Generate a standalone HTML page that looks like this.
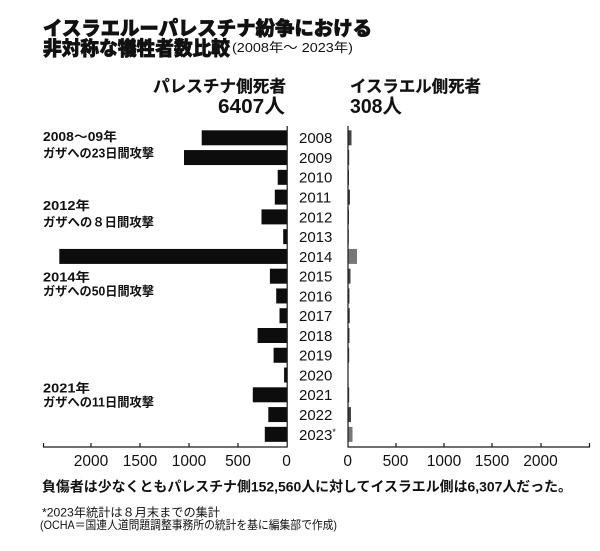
<!DOCTYPE html>
<html><head><meta charset="utf-8"><style>
html,body{margin:0;padding:0;background:#fff;}
svg{display:block;}
text{font-family:"Liberation Sans","Noto Sans CJK JP",sans-serif;fill:#111;}
</style></head><body>
<svg width="600" height="551" viewBox="0 0 600 551" xmlns="http://www.w3.org/2000/svg">
<rect width="600" height="551" fill="#fff"/>
<!-- Title -->
<text x="43" y="35" font-size="19.4" font-weight="900" stroke="#111" stroke-width="0.7" textLength="329" lengthAdjust="spacingAndGlyphs">イスラエルーパレスチナ紛争における</text>
<text x="43" y="55" font-size="19.4" font-weight="900" stroke="#111" stroke-width="0.7" textLength="187" lengthAdjust="spacingAndGlyphs">非対称な犠牲者数比較</text>
<text x="232" y="52" font-size="13" textLength="121" lengthAdjust="spacingAndGlyphs">(2008年～ 2023年)</text>
<!-- Headers -->
<text x="153" y="92" font-size="16.5" font-weight="bold" stroke="#111" stroke-width="0.25" textLength="133" lengthAdjust="spacingAndGlyphs">パレスチナ側死者</text>
<text x="218" y="113" font-size="20" font-weight="bold" textLength="67" lengthAdjust="spacingAndGlyphs">6407人</text>
<text x="350" y="92" font-size="16.5" font-weight="bold" stroke="#111" stroke-width="0.25" textLength="131" lengthAdjust="spacingAndGlyphs">イスラエル側死者</text>
<text x="350" y="113" font-size="20" font-weight="bold" textLength="52" lengthAdjust="spacingAndGlyphs">308人</text>
<!-- Annotations -->
<g font-size="12.5" font-weight="bold">
<text x="43" y="141" textLength="74" lengthAdjust="spacingAndGlyphs">2008～09年</text>
<text x="43" y="157.5" textLength="111" lengthAdjust="spacingAndGlyphs">ガザへの23日間攻撃</text>
<text x="43" y="210" textLength="47" lengthAdjust="spacingAndGlyphs">2012年</text>
<text x="43" y="226.5" textLength="111" lengthAdjust="spacingAndGlyphs">ガザへの８日間攻撃</text>
<text x="43" y="281.5" textLength="47" lengthAdjust="spacingAndGlyphs">2014年</text>
<text x="43" y="295.5" textLength="111" lengthAdjust="spacingAndGlyphs">ガザへの50日間攻撃</text>
<text x="43" y="392.5" textLength="47" lengthAdjust="spacingAndGlyphs">2021年</text>
<text x="43" y="406.5" textLength="111" lengthAdjust="spacingAndGlyphs">ガザへの11日間攻撃</text>
</g>
<!-- Left bars -->
<g fill="#0d0d0d">
<rect x="201.7" y="130.3" width="85.3" height="15"/>
<rect x="184" y="150.07" width="103" height="15"/>
<rect x="277.7" y="169.84" width="9.3" height="15"/>
<rect x="274.8" y="189.61" width="12.2" height="15"/>
<rect x="261.5" y="209.38" width="25.5" height="15"/>
<rect x="283.2" y="229.15" width="3.8" height="15"/>
<rect x="59.3" y="248.92" width="227.7" height="15"/>
<rect x="269.9" y="268.69" width="17.1" height="15"/>
<rect x="276.2" y="288.46" width="10.8" height="15"/>
<rect x="279.5" y="308.23" width="7.5" height="15"/>
<rect x="257.6" y="328" width="29.4" height="15"/>
<rect x="273.6" y="347.77" width="13.4" height="15"/>
<rect x="284.1" y="367.54" width="2.9" height="15"/>
<rect x="252.8" y="387.31" width="34.2" height="15"/>
<rect x="268.3" y="407.08" width="18.7" height="15"/>
<rect x="264.8" y="426.85" width="22.2" height="15"/>
</g>
<!-- Right bars -->
<g fill="#444">
<rect x="348" y="130.3" width="3.5" height="15"/>
<rect x="348" y="150.07" width="1.2" height="15"/>
<rect x="348" y="169.84" width="1" height="15"/>
<rect x="348" y="189.61" width="2" height="15"/>
<rect x="348" y="209.38" width="1" height="15"/>
<rect x="348" y="229.15" width="0.8" height="15"/>
<rect x="348" y="248.92" width="9" height="15" fill="#777"/>
<rect x="348" y="268.69" width="2.5" height="15"/>
<rect x="348" y="288.46" width="1.5" height="15"/>
<rect x="348" y="308.23" width="1.8" height="15"/>
<rect x="348" y="328" width="1.5" height="15"/>
<rect x="348" y="347.77" width="1.2" height="15"/>
<rect x="348" y="367.54" width="0.5" height="15"/>
<rect x="348" y="387.31" width="1.2" height="15"/>
<rect x="348" y="407.08" width="3" height="15"/>
<rect x="348" y="426.85" width="4.5" height="15" fill="#777"/>
</g>
<!-- Axes -->
<g stroke="#1a1a1a" stroke-width="1.2" fill="none">
<line x1="287.2" y1="126" x2="287.2" y2="447.5"/>
<line x1="348" y1="126" x2="348" y2="447.5"/>
<line x1="43" y1="447" x2="287.2" y2="447"/>
<line x1="348" y1="447" x2="590" y2="447"/>
<line x1="43.5" y1="443" x2="43.5" y2="447"/>
<line x1="91" y1="443" x2="91" y2="447"/>
<line x1="140" y1="443" x2="140" y2="447"/>
<line x1="189" y1="443" x2="189" y2="447"/>
<line x1="238" y1="443" x2="238" y2="447"/>
<line x1="396" y1="443" x2="396" y2="447"/>
<line x1="444" y1="443" x2="444" y2="447"/>
<line x1="492" y1="443" x2="492" y2="447"/>
<line x1="541" y1="443" x2="541" y2="447"/>
<line x1="589.5" y1="443" x2="589.5" y2="447"/>
</g>
<!-- Year labels -->
<g font-size="15">
<text x="299" y="143.2">2008</text>
<text x="299" y="162.97">2009</text>
<text x="299" y="182.74">2010</text>
<text x="299" y="202.51">2011</text>
<text x="299" y="222.28">2012</text>
<text x="299" y="242.05">2013</text>
<text x="299" y="261.82">2014</text>
<text x="299" y="281.59">2015</text>
<text x="299" y="301.36">2016</text>
<text x="299" y="321.13">2017</text>
<text x="299" y="340.9">2018</text>
<text x="299" y="360.67">2019</text>
<text x="299" y="380.44">2020</text>
<text x="299" y="400.21">2021</text>
<text x="299" y="419.98">2022</text>
<text x="299" y="439.75">2023<tspan font-size="9" dy="-5">*</tspan></text>
</g>
<!-- Tick labels -->
<g font-size="15.5" text-anchor="middle">
<text x="91" y="466">2000</text>
<text x="140" y="466">1500</text>
<text x="189" y="466">1000</text>
<text x="238" y="466">500</text>
<text x="286.5" y="466">0</text>
<text x="347.7" y="466">0</text>
<text x="395.5" y="466">500</text>
<text x="444" y="466">1000</text>
<text x="492" y="466">1500</text>
<text x="540.5" y="466">2000</text>
</g>
<!-- Footnotes -->
<text x="42" y="491.7" font-size="14" font-weight="bold" textLength="530" lengthAdjust="spacingAndGlyphs">負傷者は少なくともパレスチナ側152,560人に対してイスラエル側は6,307人だった。</text>
<text x="42" y="516.5" font-size="12" textLength="178" lengthAdjust="spacingAndGlyphs">*2023年統計は８月末までの集計</text>
<text x="40" y="529" font-size="12" textLength="297" lengthAdjust="spacingAndGlyphs">(OCHA＝国連人道問題調整事務所の統計を基に編集部で作成)</text>
</svg>
</body></html>
